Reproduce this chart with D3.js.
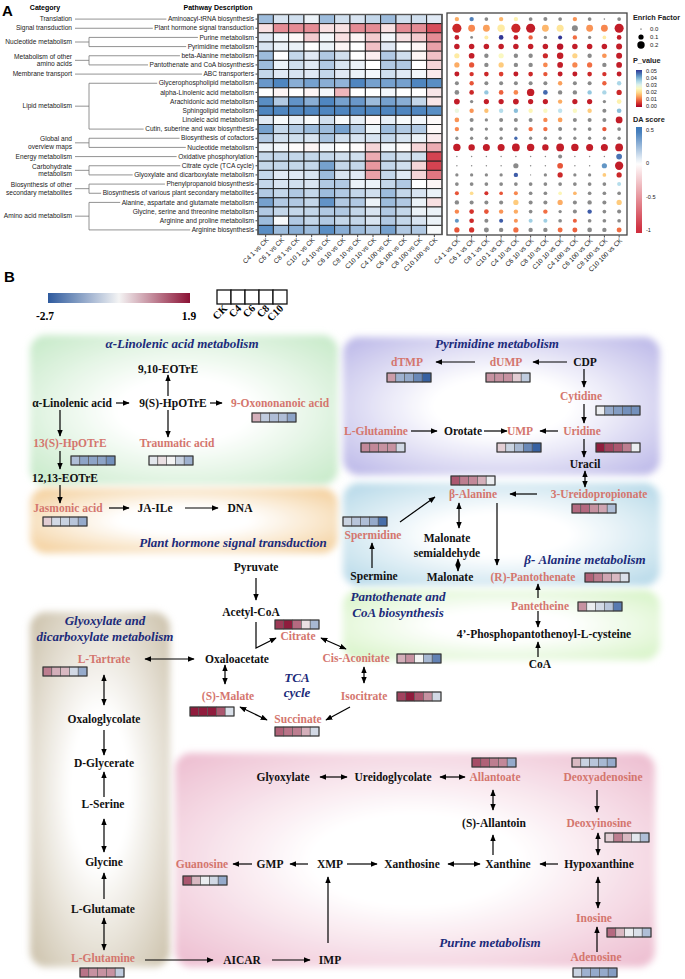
<!DOCTYPE html>
<html>
<head>
<meta charset="utf-8">
<script src="https://cdn.jsdelivr.net/npm/d3@7"></script>
<style>
  body { margin: 0; background: #fff; }
  svg { display: block; }
</style>
</head>
<body>
<svg id="fig" width="685" height="979"></svg>
<script>
// ---------- panel A data ----------
const comparisons = ["C4 1 vs CK","C6 1 vs CK","C8 1 vs CK","C10 1 vs CK","C4 10 vs CK","C6 10 vs CK",
  "C8 10 vs CK","C10 10 vs CK","C4 100 vs CK","C6 100 vs CK","C8 100 vs CK","C10 100 vs CK"];

const pathways = ["Aminoacyl-tRNA biosynthesis","Plant hormone signal transduction","Purine metabolism",
  "Pyrimidine metabolism","beta-Alanine metabolism","Pantothenate and CoA biosynthesis","ABC transporters",
  "Glycerophospholipid metabolism","alpha-Linolenic acid metabolism","Arachidonic acid metabolism",
  "Sphingolipid metabolism","Linoleic acid metabolism","Cutin, suberine and wax biosynthesis",
  "Biosynthesis of cofactors","Nucleotide metabolism","Oxidative phosphorylation","Citrate cycle (TCA cycle)",
  "Glyoxylate and dicarboxylate metabolism","Phenylpropanoid biosynthesis",
  "Biosynthesis of various plant secondary metabolites","Alanine, aspartate and glutamate metabolism",
  "Glycine, serine and threonine metabolism","Arginine and proline metabolism","Arginine biosynthesis"];

// category label lines and how many pathway rows each one covers
const categoryLabels = [["Translation"],["Signal transduction"],["Nucleotide metabolism"],
  ["Metabolism of other","amino acids"],["Membrane transport"],["Lipid metabolism"],
  ["Global and","overview maps"],["Energy metabolism"],["Carbohydrate","metabolism"],
  ["Biosynthesis of other","secondary metabolites"],["Amino acid metabolism"]];
const categoryRows = [1,1,2,2,1,6,2,1,2,2,4];

// DA score, one row per pathway
const daScore = [
  [0.25,0.1,0.12,0.05,0.25,0.12,0.1,0.15,0.25,0.12,0.12,0.08],
  [-0.15,-0.55,-0.55,-0.55,-0.15,-0.15,-0.55,-0.55,-0.15,-0.55,-0.55,-0.85],
  [0.08,0.03,-0.03,-0.25,0.03,-0.15,-0.05,-0.25,0.03,-0.15,-0.25,-0.55],
  [0.1,0.05,0.05,0,0.05,-0.05,0,-0.3,0.08,0,-0.05,-0.45],
  [0.25,0,0.15,0.08,0.2,0.12,0,-0.08,0.2,0.12,-0.05,-0.3],
  [0.25,0.05,0.12,0.08,0.2,0.1,0.05,0,0.2,0.2,0,-0.2],
  [0.15,0.08,0.1,0.08,0.15,0.08,0.05,0.03,0.12,0.08,0.03,-0.1],
  [0.38,0.45,0.3,0.35,0.3,0.28,0.45,0.35,0.35,0.35,0.45,0.42],
  [0,-0.05,0,-0.05,0.03,-0.35,0,0,0.03,0,0,-0.12],
  [0.42,0.2,0.4,0.3,0.45,0.35,0.38,0.25,0.35,0.3,0.15,-0.12],
  [0.45,0.45,0.45,0.45,0.45,0.45,0.45,0.45,0.45,0.45,0.45,0.42],
  [0.08,0.02,0.06,0.02,0.12,0.02,0.06,-0.03,0.06,0.02,0.03,-0.03],
  [0.35,0.15,0.2,0.25,0.25,0.35,0.2,0.05,0.25,0.2,0.2,-0.03],
  [0.2,0.12,0.12,0.1,0.22,0.12,0.1,0.1,0.15,0.1,0.05,-0.1],
  [0.05,0.03,-0.02,-0.05,0.03,0,-0.02,-0.2,0.03,-0.02,-0.2,-0.4],
  [0.15,0.15,0.15,0.15,0.15,0.12,0.12,-0.4,0.15,0.12,0.12,-0.9],
  [0.15,0.15,0.15,0.15,0.35,0.15,0.15,-0.5,0.15,0.12,-0.2,-0.9],
  [0.15,0.08,0.08,0.1,0.25,0.1,0.08,-0.45,0.15,0.08,-0.2,-0.65],
  [0.15,0.1,0.12,0.1,0.2,0.2,0.05,0.05,0.15,0.2,0,-0.05],
  [0.2,0.15,0.2,0.15,0.25,0.2,0.15,0.12,0.25,0.15,0.1,0.05],
  [0.35,0.2,0.2,0.15,0.4,0.2,0.2,0.05,0.25,0.2,0.05,-0.15],
  [0.2,0.15,0.15,0.15,0.2,0.2,0.15,0.1,0.2,0.15,0.05,0.05],
  [0.25,0.02,0.2,0.15,0.2,0.15,0.15,0.1,0.2,0.15,0.1,0.05],
  [0.42,0.25,0.3,0.25,0.42,0.3,0.25,0.2,0.35,0.2,0.2,0.02]
];

// enrich factor for the dot plot
const enrich = [
  [0.07,0.07,0.05,0.07,0.07,0.05,0.06,0.05,0.07,0.05,0.01,0.05],
  [0.3,0.17,0.17,0.2,0.3,0.3,0.17,0.18,0.13,0.17,0.17,0.3],
  [0.08,0.03,0.06,0.08,0.08,0.07,0.04,0.06,0.07,0.04,0.05,0.08],
  [0.11,0.11,0.11,0.11,0.11,0.11,0.11,0.15,0.11,0.11,0.11,0.13],
  [0.1,0.12,0.07,0.1,0.07,0.07,0.1,0.15,0.1,0.07,0.08,0.13],
  [0.1,0.1,0.07,0.1,0.07,0.07,0.08,0.12,0.1,0.1,0.07,0.12],
  [0.09,0.07,0.08,0.08,0.09,0.08,0.07,0.09,0.09,0.08,0.07,0.09],
  [0.06,0.07,0.06,0.06,0.06,0.06,0.06,0.07,0.06,0.06,0.07,0.07],
  [0.08,0.08,0.07,0.08,0.08,0.2,0.08,0.07,0.07,0.07,0.07,0.1],
  [0.12,0.04,0.1,0.1,0.12,0.1,0.1,0.07,0.1,0.1,0.04,0.08],
  [0.07,0.07,0.07,0.07,0.07,0.07,0.07,0.07,0.07,0.07,0.06,0.08],
  [0.08,0.06,0.04,0.06,0.06,0.06,0.07,0.08,0.06,0.06,0.06,0.17],
  [0.07,0.05,0.04,0.05,0.05,0.07,0.07,0.06,0.04,0.05,0.07,0.05],
  [0.04,0.04,0.04,0.04,0.04,0.04,0.04,0.04,0.04,0.04,0.04,0.04],
  [0.2,0.15,0.18,0.18,0.22,0.2,0.15,0.22,0.2,0.18,0.18,0.22],
  [0.008,0.008,0.008,0.008,0.008,0.008,0.008,0.06,0.008,0.008,0.008,0.12],
  [0.008,0.008,0.008,0.008,0.1,0.008,0.008,0.12,0.008,0.008,0.1,0.25],
  [0.04,0.04,0.04,0.04,0.07,0.005,0.04,0.1,0.04,0.04,0.05,0.1],
  [0.05,0.05,0.05,0.05,0.05,0.05,0.05,0.05,0.05,0.05,0.05,0.06],
  [0.06,0.05,0.06,0.05,0.06,0.05,0.05,0.05,0.05,0.05,0.05,0.05],
  [0.07,0.06,0.06,0.06,0.1,0.06,0.06,0.1,0.06,0.07,0.06,0.1],
  [0.07,0.08,0.08,0.07,0.07,0.05,0.07,0.04,0.06,0.07,0.05,0.06],
  [0.06,0.08,0.06,0.06,0.06,0.06,0.06,0.05,0.06,0.05,0.05,0.05],
  [0.1,0.1,0.09,0.07,0.1,0.07,0.07,0.09,0.09,0.08,0.07,0.09]
];

// p values, null = not significant (grey dot)
const pValue = [
  [0.015,0.044,null,0.016,0.023,null,null,null,0.013,null,null,null],
  [0.004,0.012,0.014,0.022,0.004,0.003,0.016,0.021,null,0.013,0.012,0.003],
  [0.003,null,0.022,0.05,0.003,0.009,null,0.05,0.01,null,0.022,0.003],
  [0.003,0.003,0.003,0.003,0.003,0.003,0.003,0.002,0.003,0.003,0.003,0.003],
  [0.022,0.003,null,0.025,null,null,0.004,0.003,0.019,null,0.013,0.003],
  [0.015,0.008,null,0.018,null,null,0.012,0.003,0.012,0.01,null,0.003],
  [0.003,0.005,0.004,0.006,0.003,0.004,0.008,0.003,0.003,0.004,0.005,0.003],
  [null,0.008,null,null,null,null,null,0.014,null,null,0.009,0.035],
  [null,0.004,0.037,0.009,0.012,0.003,0.046,null,null,0.037,0.035,0.004],
  [0.003,null,0.003,0.003,0.003,0.003,0.003,0.015,0.003,0.003,null,0.023],
  [0.028,0.013,0.017,0.034,0.038,0.024,0.025,0.033,0.025,0.018,null,0.038],
  [0.013,null,null,null,null,null,0.012,0.014,null,null,null,0.003],
  [0.012,null,null,null,null,0.01,0.01,null,null,null,0.008,null],
  [null,null,null,null,0.046,null,null,null,null,null,null,null],
  [0.003,0.003,0.003,0.003,0.003,0.003,0.003,0.003,0.003,0.003,0.003,0.003],
  [null,null,null,null,null,null,null,null,null,null,null,0.045],
  [null,null,null,null,null,null,null,0.008,null,null,0.042,0.003],
  [null,null,null,null,0.047,null,null,0.004,null,null,0.018,0.004],
  [null,null,null,null,null,null,null,null,null,null,null,0.034],
  [0.008,0.02,0.005,0.008,0.012,null,null,0.024,0.016,null,null,null],
  [null,null,null,null,0.018,null,null,0.015,null,null,null,0.018],
  [0.012,0.005,0.008,0.013,0.015,null,0.01,null,null,0.047,null,null],
  [0.042,0.004,null,0.047,0.013,0.036,0.036,null,0.009,null,null,null],
  [0.008,0.005,null,null,0.01,null,null,0.01,0.009,null,null,0.01]
];

const efLegend = [0.0, 0.1, 0.2];
const pTicks = [0.05,0.04,0.03,0.02,0.01,0.00];
const daTicks = [0.5, 0, -0.5, -1];

// ---------- panel B data ----------
const groups = ["CK","C4","C6","C8","C10"];
const metabolites = ["9-Oxononanoic acid","13(S)-HpOTrE","Traumatic acid","Jasmonic acid","dTMP","dUMP",
  "Cytidine","Uridine","L-Glutamine","UMP","3-Ureidopropionate","β-Alanine","Spermidine","(R)-Pantothenate",
  "Pantetheine","Citrate","Cis-Aconitate","Isocitrate","(S)-Malate","Succinate","L-Tartrate","Allantoate",
  "Deoxyadenosine","Deoxyinosine","Inosine","Adenosine","Guanosine","L-Glutamine"];
const stripValues = [
  [0.3,-1.0,-1.2,-1.2,-1.6],[-1.2,-1.6,-1.6,-1.6,-1.9],[-0.6,-0.2,-0.4,-0.9,-1.4],[0.0,-0.8,-0.9,-1.1,-1.5],
  [0.5,-1.4,-1.5,-2.0,-2.6],[0.6,0.6,0.6,0.0,-1.0],[-0.5,-1.5,-1.7,-1.9,-1.9],[1.8,1.4,1.2,0.8,-0.5],
  [0.7,0.7,0.6,0.6,-0.8],[0.0,-0.9,-1.3,-2.0,-2.6],[1.0,1.0,0.6,0.4,-1.2],[1.2,0.8,0.7,0.3,-0.5],
  [-0.9,-1.1,-1.2,-1.5,-2.4],[1.1,0.8,0.4,0.2,-0.7],[0.6,-0.5,-0.8,-1.1,-2.2],[1.5,1.8,1.0,-0.2,-1.3],
  [0.3,0.6,-0.4,-1.3,-2.1],[1.4,1.8,1.2,0.6,-0.8],[1.8,1.8,1.8,1.2,-0.7],[1.1,0.9,0.8,0.3,-0.8],
  [0.8,0.3,0.2,-0.8,-1.5],[1.3,1.1,0.8,0.7,-1.5],[0.2,-0.9,-1.1,-1.3,-1.5],[0.0,0.8,0.2,-0.6,-1.2],
  [1.0,0.2,-0.5,-0.7,-1.2],[-0.9,-1.4,-1.5,-1.5,-1.7],[1.2,0.2,-0.5,-0.8,-1.5],[0.9,0.6,0.6,0.6,-1.0]
];
const stripDomain = [-2.7, 1.9];

// ---------- panel B layout (positions only) ----------
// top-left corner of each metabolite strip, same order as metabolites
const stripAt = [[252,413],[71,456],[149,456],[43,517],[387,373],[486,373],[596,406],[596,443],[361,443],
  [497,443],[572,504],[451,476],[343,517],[585,573],[578,602],[275,620],[397,654],[397,692],[190,707],
  [275,727],[43,667],[472,758],[572,758],[605,833],[607,928],[573,968],[183,876],[80,968]];

// compound labels: [text, x centre, y centre]
const nodeAt = [
  ["9,10-EOTrE",168,369],["α-Linolenic acid",72,403],["9(S)-HpOTrE",173,403],["9-Oxononanoic acid",280,403],
  ["13(S)-HpOTrE",70,443],["Traumatic acid",177,443],["12,13-EOTrE",65,478],["Jasmonic acid",68,508],
  ["JA-ILe",155,508],["DNA",240,508],
  ["dTMP",407,362],["dUMP",506,362],["CDP",585,362],["Cytidine",581,396],["Uridine",582,431],
  ["L-Glutamine",376,431],["Orotate",463,431],["UMP",520,431],["Uracil",585,464],
  ["3-Ureidopropionate",599,494],["β-Alanine",473,494],["Spermidine",373,535],["Malonate",447,538],
  ["semialdehyde",447,553],["Malonate",450,577],["Spermine",374,576],["(R)-Pantothenate",533,577],
  ["Pantetheine",540,606],["4’-Phosphopantothenoyl-L-cysteine",544,634],["CoA",540,664],
  ["Pyruvate",256,567],["Acetyl-CoA",251,612],["Citrate",298,636],["Cis-Aconitate",356,658],
  ["Isocitrate",364,696],["Oxaloacetate",237,659],["L-Tartrate",104,659],["(S)-Malate",228,696],
  ["Succinate",298,719],["Oxaloglycolate",104,719],["D-Glycerate",104,763],["L-Serine",103,804],
  ["Glycine",104,862],["L-Glutamate",103,909],["L-Glutamine",103,958],
  ["Glyoxylate",283,777],["Ureidoglycolate",393,777],["Allantoate",495,777],["Deoxyadenosine",603,777],
  ["(S)-Allantoin",494,823],["Deoxyinosine",599,823],["Xanthosine",412,864],["Xanthine",508,864],
  ["Hypoxanthine",599,864],["Inosine",594,918],["Adenosine",596,957],["Guanosine",202,864],
  ["GMP",270,864],["XMP",330,864],["AICAR",242,960],["IMP",330,960]
];

// arrows: [x1,y1,x2,y2,both ends?]
const arrowAt = [
  [116,403,129,403],[210,403,222,403],[168,396,168,375],[168,410,168,437],[60,410,60,436],
  [60,451,60,469],[60,485,60,503],[109,508,129,508],[185,508,218,508],
  [567,362,533,362],[475,362,436,362],[584,369,584,387],[584,404,584,423],[411,431,437,431],
  [484,431,507,431],[558,431,540,431],[584,439,584,457],[585,471,585,487,1],[537,494,510,494],
  [400,522,435,497],[459,503,459,528,1],[497,503,497,565],[458,559,458,571,1],[372,568,372,543],
  [538,598,538,584],[538,611,538,627],[538,657,538,642],
  [256,578,256,600],[321,638,346,649,1],[364,667,364,683,1],[350,707,326,720],
  [145,659,194,659,1],[225,665,225,684,1],[240,707,267,720,1],
  [104,675,104,705,1],[104,730,104,755],[104,797,104,772],[104,819,104,852,1],[104,899,104,873],
  [104,918,104,950,1],
  [320,777,347,777,1],[440,777,465,777,1],[493,790,493,810,1],[493,855,493,835],[448,864,480,864,1],
  [558,864,540,864],[597,790,597,812],[598,833,598,855,1],[598,877,598,908,1],[597,952,597,927],
  [145,960,213,960],[272,960,310,960],[328,943,328,877],[347,864,377,864],[308,864,290,864],
  [252,864,233,864]
];

// pathway backgrounds: [x, y, w, h, colour]
const regionAt = [
  [30,335,308,150,"#c2e8c4"],[30,488,308,65,"#f2c98e"],[343,337,317,138,"#b6b2e6"],
  [343,483,317,103,"#afd5e6"],[343,590,317,70,"#d2f2c0"],[30,612,140,355,"#c9bea6"],
  [175,753,480,214,"#ecb9cd"]
];
// pathway titles: [text, x, y]
const titleAt = [
  ["α-Linolenic acid metabolism",182,343],["Plant hormone signal transduction",233,542],
  ["Pyrimidine metabolism",497,343],["β- Alanine metabolism",585,559],["Pantothenate and",398,596],
  ["CoA biosynthesis",398,612],["Glyoxylate and",105,620],["dicarboxylate metabolism",105,636],
  ["TCA",297,677],["cycle",297,692],["Purine metabolism",490,942]
];

const svg = d3.select("#fig");
const defs = svg.append("defs");

// ===================== PANEL A =====================
const A = svg.append("g").attr("font-family", "'Liberation Sans', Arial, sans-serif");

A.append("text").attr("x", 2).attr("y", 16).attr("font-size", 15).attr("font-weight", "bold").text("A");
A.append("text").attr("x", 45).attr("y", 10).attr("text-anchor", "middle").attr("font-size", 7)
  .attr("font-weight", "bold").text("Category");
A.append("text").attr("x", 218).attr("y", 10).attr("text-anchor", "middle").attr("font-size", 7)
  .attr("font-weight", "bold").text("Pathway Description");

const x = d3.scaleBand().domain(comparisons).range([258, 442]);
const y = d3.scaleBand().domain(pathways).range([14.5, 234.5]);
const daColor = d3.scaleLinear().domain([-1, 0, 0.5]).range(["#cf2e3e", "#ffffff", "#3b78b9"]);

const cells = [];
pathways.forEach((p, i) => comparisons.forEach((c, j) => cells.push({p, c, v: daScore[i][j]})));

A.append("g").selectAll("rect").data(cells).join("rect")
  .attr("x", d => x(d.c)).attr("y", d => y(d.p))
  .attr("width", x.bandwidth()).attr("height", y.bandwidth())
  .attr("fill", d => daColor(d.v))
  .attr("stroke", "#1a1a1a").attr("stroke-width", 0.9);
A.append("rect").attr("x", 258).attr("y", 14.5).attr("width", 184).attr("height", 220)
  .attr("fill", "none").attr("stroke", "#555").attr("stroke-width", 1.4);

// pathway names as the left axis
const yAxis = A.append("g").attr("transform", "translate(257.5,0)")
  .call(d3.axisLeft(y).tickSize(2).tickPadding(1.5));
yAxis.select(".domain").remove();
yAxis.selectAll("text").attr("font-size", 6.6).attr("fill", "#222");
yAxis.selectAll("line").attr("stroke", "#444");

function bottomLabels(scale, yPos) {
  const g = A.append("g").attr("transform", `translate(0,${yPos})`)
    .call(d3.axisBottom(scale).tickSize(2).tickPadding(1));
  g.select(".domain").remove();
  g.selectAll("line").attr("stroke", "#444");
  g.selectAll("text").attr("font-size", 6.6).attr("fill", "#222")
    .attr("text-anchor", "end").attr("dx", "-0.2em").attr("dy", "0.5em")
    .attr("transform", "rotate(-45)");
}
bottomLabels(x, 235);

// category brackets
const labelStart = {};
yAxis.selectAll(".tick text").each(function(d) {
  labelStart[d] = 255.5 - this.getComputedTextLength();
});
const mid = p => y(p) + y.bandwidth() / 2;
let row = 0;
categoryLabels.forEach((lines, k) => {
  const first = pathways[row], last = pathways[row + categoryRows[k] - 1];
  row += categoryRows[k];
  const yc = (mid(first) + mid(last)) / 2;
  const t = A.append("text").attr("text-anchor", "end").attr("font-size", 6.6).attr("fill", "#222");
  lines.forEach((ln, li) => {
    t.append("tspan").attr("x", 72).attr("y", yc + 2.2 + (li - (lines.length - 1) / 2) * 7.4).text(ln);
  });
  const ln = A.append("g").attr("stroke", "#777").attr("stroke-width", 0.8).attr("fill", "none");
  if (first === last) {
    ln.append("line").attr("x1", 75).attr("x2", labelStart[first] - 3).attr("y1", yc).attr("y2", yc);
  } else {
    ln.append("line").attr("x1", 75).attr("x2", 89).attr("y1", yc).attr("y2", yc);
    ln.append("line").attr("x1", 89).attr("x2", 89).attr("y1", mid(first)).attr("y2", mid(last));
    [first, last].forEach(p => ln.append("line").attr("x1", 89).attr("x2", labelStart[p] - 3)
      .attr("y1", mid(p)).attr("y2", mid(p)));
  }
});

// dot plot
const xd = d3.scaleBand().domain(comparisons).range([449.5, 626.5]);
const rScale = d3.scaleSqrt().domain([0, 0.2]).range([0, 3.7]);
const pColor = d3.scaleSequential(t => d3.interpolateRdYlBu(t)).domain([0, 0.05]);

const dots = [];
pathways.forEach((p, i) => comparisons.forEach((c, j) =>
  dots.push({p, c, ef: enrich[i][j], pv: pValue[i][j]})));

A.append("rect").attr("x", 447).attr("y", 13).attr("width", 180).attr("height", 222)
  .attr("fill", "#fff").attr("stroke", "#444").attr("stroke-width", 1.3);
A.append("g").selectAll("circle").data(dots).join("circle")
  .attr("cx", d => xd(d.c) + xd.bandwidth() / 2).attr("cy", d => mid(d.p))
  .attr("r", d => rScale(d.ef))
  .attr("fill", d => d.pv == null ? "#8a8a8a" : pColor(d.pv));
bottomLabels(xd, 235.5);

// legends
const L = A.append("g").attr("font-size", 6).attr("fill", "#222");
L.append("text").attr("x", 633).attr("y", 20).attr("font-size", 7.3).attr("font-weight", "bold").text("Enrich Factor");
efLegend.forEach((v, i) => {
  L.append("circle").attr("cx", 641).attr("cy", 29 + i * 8).attr("r", Math.max(rScale(v), 0.6)).attr("fill", "#000");
  L.append("text").attr("x", 650).attr("y", 31 + i * 8).text(v.toFixed(1));
});
L.append("text").attr("x", 633).attr("y", 63).attr("font-size", 7.3).attr("font-weight", "bold").text("P_value");
const pg = defs.append("linearGradient").attr("id", "pgrad").attr("x1", 0).attr("y1", 1).attr("x2", 0).attr("y2", 0);
d3.range(0, 1.01, 0.1).forEach(t => pg.append("stop").attr("offset", t).attr("stop-color", pColor(t * 0.05)));
L.append("rect").attr("x", 636).attr("y", 70).attr("width", 6).attr("height", 37).attr("fill", "url(#pgrad)");
const pY = d3.scaleLinear().domain([0.05, 0]).range([71, 106]);
pTicks.forEach(v => {
  L.append("text").attr("x", 646).attr("y", pY(v) + 2).attr("font-size", 5.6).text(v.toFixed(2));
});

L.append("text").attr("x", 633).attr("y", 122).attr("font-size", 7.3).attr("font-weight", "bold").text("DA score");
const dg = defs.append("linearGradient").attr("id", "dgrad").attr("x1", 0).attr("y1", 1).attr("x2", 0).attr("y2", 0);
const daY = d3.scaleLinear().domain([0.5, -1]).range([130, 230]);
d3.range(0, 1.001, 0.05).forEach(t => {
  const v = daY.invert(233 - t * 106);
  dg.append("stop").attr("offset", t).attr("stop-color", daColor(Math.max(-1, Math.min(0.5, v))));
});
L.append("rect").attr("x", 636).attr("y", 127).attr("width", 6).attr("height", 106).attr("fill", "url(#dgrad)");
daTicks.forEach(v => {
  L.append("text").attr("x", 646).attr("y", daY(v) + 2).attr("font-size", 5.6).text(v);
});

// ===================== PANEL B =====================
const B = svg.append("g").attr("font-family", "'Liberation Serif', 'Times New Roman', serif");
B.append("text").attr("x", 4).attr("y", 282).attr("font-family", "'Liberation Sans', Arial, sans-serif")
  .attr("font-size", 15).attr("font-weight", "bold").text("B");

// soft coloured backgrounds
defs.append("filter").attr("id", "soft").attr("x", -0.1).attr("y", -0.1).attr("width", 1.2).attr("height", 1.2)
  .append("feGaussianBlur").attr("stdDeviation", 3.5);
regionAt.forEach((r, i) => {
  const g = defs.append("radialGradient").attr("id", "reg" + i).attr("cx", 0.5).attr("cy", 0.5).attr("r", 0.72);
  g.append("stop").attr("offset", 0).attr("stop-color", "#ffffff");
  g.append("stop").attr("offset", 0.3).attr("stop-color", "#ffffff");
  g.append("stop").attr("offset", 1).attr("stop-color", r[4]);
  B.append("rect").attr("x", r[0]).attr("y", r[1]).attr("width", r[2]).attr("height", r[3])
    .attr("rx", 16).attr("fill", `url(#reg${i})`).attr("filter", "url(#soft)");
});

// colour key
const stripColor = d3.scaleLinear().domain([stripDomain[0], (stripDomain[0] + stripDomain[1]) / 2, stripDomain[1]])
  .range(["#2e5a9e", "#f4f4f4", "#8b1235"]);
const kg = defs.append("linearGradient").attr("id", "kgrad");
d3.range(0, 1.001, 0.1).forEach(t => kg.append("stop").attr("offset", t)
  .attr("stop-color", stripColor(stripDomain[0] + t * (stripDomain[1] - stripDomain[0]))));
B.append("rect").attr("x", 48).attr("y", 293).attr("width", 142).attr("height", 10).attr("fill", "url(#kgrad)");
B.append("text").attr("x", 45).attr("y", 320).attr("text-anchor", "middle").attr("font-size", 11.5)
  .attr("font-weight", "bold").text(stripDomain[0]);
B.append("text").attr("x", 189).attr("y", 320).attr("text-anchor", "middle").attr("font-size", 11.5)
  .attr("font-weight", "bold").text(stripDomain[1]);

const keyX = d3.scaleBand().domain(groups).range([217, 287]);
B.append("g").selectAll("rect").data(groups).join("rect")
  .attr("x", d => keyX(d)).attr("y", 290).attr("width", keyX.bandwidth()).attr("height", 14)
  .attr("fill", "#fff").attr("stroke", "#111").attr("stroke-width", 1.3);
B.append("g").selectAll("text").data(groups).join("text")
  .attr("transform", d => `translate(${keyX(d) + keyX.bandwidth() / 2 + 4},${309}) rotate(-45)`)
  .attr("text-anchor", "end").attr("font-size", 10.5).attr("font-weight", "bold").text(d => d);

// metabolite strips
const cellX = d3.scaleBand().domain(groups).range([0, 44]);
metabolites.forEach((m, i) => {
  const g = B.append("g").attr("transform", `translate(${stripAt[i][0]},${stripAt[i][1]})`);
  g.selectAll("rect").data(stripValues[i]).join("rect")
    .attr("x", (d, j) => cellX(groups[j])).attr("y", 0)
    .attr("width", cellX.bandwidth()).attr("height", 9)
    .attr("fill", d => stripColor(d)).attr("stroke", "#555").attr("stroke-width", 0.6);
  g.append("rect").attr("width", 44).attr("height", 9).attr("fill", "none")
    .attr("stroke", "#333").attr("stroke-width", 1);
});

// arrows
const head = (id, start) => defs.append("marker").attr("id", id)
  .attr("viewBox", "0 0 10 8").attr("refX", 9).attr("refY", 4)
  .attr("markerWidth", 7).attr("markerHeight", 5.6).attr("markerUnits", "userSpaceOnUse")
  .attr("orient", start ? "auto-start-reverse" : "auto")
  .append("path").attr("d", "M0,0 L10,4 L0,8 Z").attr("fill", "#000");
head("ah", false);
head("ah2", true);
B.append("g").selectAll("line").data(arrowAt).join("line")
  .attr("x1", d => d[0]).attr("y1", d => d[1]).attr("x2", d => d[2]).attr("y2", d => d[3])
  .attr("stroke", "#000").attr("stroke-width", 1.2)
  .attr("marker-end", d => d[4] ? "url(#ah2)" : "url(#ah)")
  .attr("marker-start", d => d[4] ? "url(#ah2)" : null);
// Acetyl-CoA joins the oxaloacetate step and goes on to citrate
B.append("path").attr("d", "M256,622 L256,648 L276,638").attr("fill", "none")
  .attr("stroke", "#000").attr("stroke-width", 1.2).attr("marker-end", "url(#ah)");

// compound names, measured ones in red
const measured = new Set(metabolites);
B.append("g").selectAll("text").data(nodeAt).join("text")
  .attr("x", d => d[1]).attr("y", d => d[2]).attr("dy", "0.35em")
  .attr("text-anchor", "middle").attr("font-size", 11.5).attr("font-weight", "bold")
  .attr("fill", d => measured.has(d[0]) ? "#d4766e" : "#111")
  .text(d => d[0]);

// pathway titles
B.append("g").selectAll("text").data(titleAt).join("text")
  .attr("x", d => d[1]).attr("y", d => d[2]).attr("dy", "0.35em")
  .attr("text-anchor", "middle").attr("font-size", 13).attr("font-weight", "bold")
  .attr("font-style", "italic").attr("fill", "#1c2b7a")
  .text(d => d[0]);
</script>
</body>
</html>
